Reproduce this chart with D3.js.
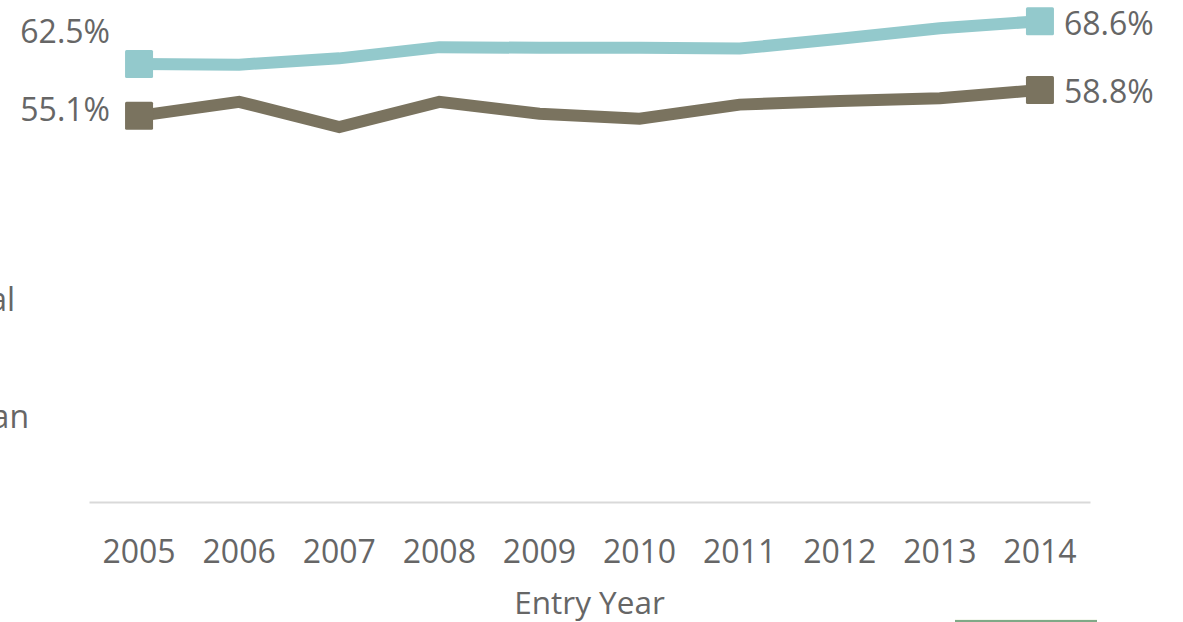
<!DOCTYPE html>
<html>
<head>
<meta charset="utf-8">
<script src="https://cdn.jsdelivr.net/npm/d3@7"></script>
<style>
  html, body { margin: 0; padding: 0; background: #fff; overflow: hidden; }
  svg { display: block; font-family: "Open Sans", "DejaVu Sans", sans-serif; }
</style>
</head>
<body>
<svg id="chart" width="1183" height="622"></svg>
<script>
// Entry cohorts
const years = ["2005", "2006", "2007", "2008", "2009", "2010", "2011", "2012", "2013", "2014"];
// Rate (%) per entry year
const seriesTeal = [62.5, 62.4, 63.3, 64.9, 64.8, 64.8, 64.7, 66.1, 67.6, 68.6];
const seriesBrown = [55.1, 57.1, 53.5, 57.1, 55.4, 54.7, 56.7, 57.2, 57.6, 58.8];
const legendLabels = ["Total", "Asian"];
const axisTitle = "Entry Year";

const svg = d3.select("#chart");
const textColor = "#666666";

const x = d3.scaleBand().domain(years).range([89, 1090]);
const y = d3.scaleLinear().domain([0, 70]).range([502, 11.4]);
const cx = d => x(d) + x.bandwidth() / 2;

// Baseline axis with year labels
const xAxis = d3.axisBottom(x).tickSize(0).tickPadding(38);
const gx = svg.append("g").attr("transform", `translate(0,${y(0)})`).call(xAxis);
gx.select(".domain").attr("stroke", "#d9d9d9").attr("stroke-width", 2);
gx.selectAll("text")
  .attr("fill", textColor)
  .attr("font-size", 32)
  .attr("font-family", "'Open Sans', sans-serif");

svg.append("text")
  .attr("x", (x.range()[0] + x.range()[1]) / 2)
  .attr("y", 614)
  .attr("text-anchor", "middle")
  .attr("fill", textColor)
  .attr("font-size", 31.5)
  .text(axisTitle);

// Series lines and square markers
const series = [
  { values: seriesTeal, color: "#93c9cc", startDy: -21, endDy: 14 },
  { values: seriesBrown, color: "#7a735f", startDy: 5, endDy: 13 }
];

const line = d3.line().x((d, i) => cx(years[i])).y(d => y(d));

series.forEach(s => {
  svg.append("path")
    .datum(s.values)
    .attr("d", line)
    .attr("fill", "none")
    .attr("stroke", s.color)
    .attr("stroke-width", 12)
    .attr("stroke-linejoin", "miter");

  const ends = [0, s.values.length - 1];
  svg.selectAll(null)
    .data(ends)
    .enter()
    .append("rect")
    .attr("x", i => cx(years[i]) - 14)
    .attr("y", i => y(s.values[i]) - 14)
    .attr("width", 28)
    .attr("height", 28)
    .attr("rx", 1.5)
    .attr("fill", s.color);

  const first = 0, last = s.values.length - 1;
  svg.append("text")
    .attr("x", cx(years[first]) - 29)
    .attr("y", y(s.values[first]) + s.startDy)
    .attr("text-anchor", "end")
    .attr("fill", textColor)
    .attr("font-size", 32)
    .text(d3.format(".1f")(s.values[first]) + "%");
  svg.append("text")
    .attr("x", cx(years[last]) + 24)
    .attr("y", y(s.values[last]) + s.endDy)
    .attr("text-anchor", "start")
    .attr("fill", textColor)
    .attr("font-size", 32)
    .text(d3.format(".1f")(s.values[last]) + "%");
});

// Legend labels running off the left edge
svg.selectAll(null)
  .data(legendLabels)
  .enter()
  .append("text")
  .attr("x", (d, i) => i === 0 ? 15 : 29)
  .attr("y", (d, i) => i === 0 ? 311 : 428)
  .attr("text-anchor", "end")
  .attr("fill", textColor)
  .attr("font-size", 32)
  .text(d => d);

// Top edge of a box below the plot
svg.append("rect")
  .attr("x", 955)
  .attr("y", 619)
  .attr("width", 142)
  .attr("height", 4)
  .attr("fill", "#f4f8ef");
svg.append("line")
  .attr("x1", 955)
  .attr("x2", 1097)
  .attr("y1", 621)
  .attr("y2", 621)
  .attr("stroke", "#7fa987")
  .attr("stroke-width", 2);
</script>
</body>
</html>
